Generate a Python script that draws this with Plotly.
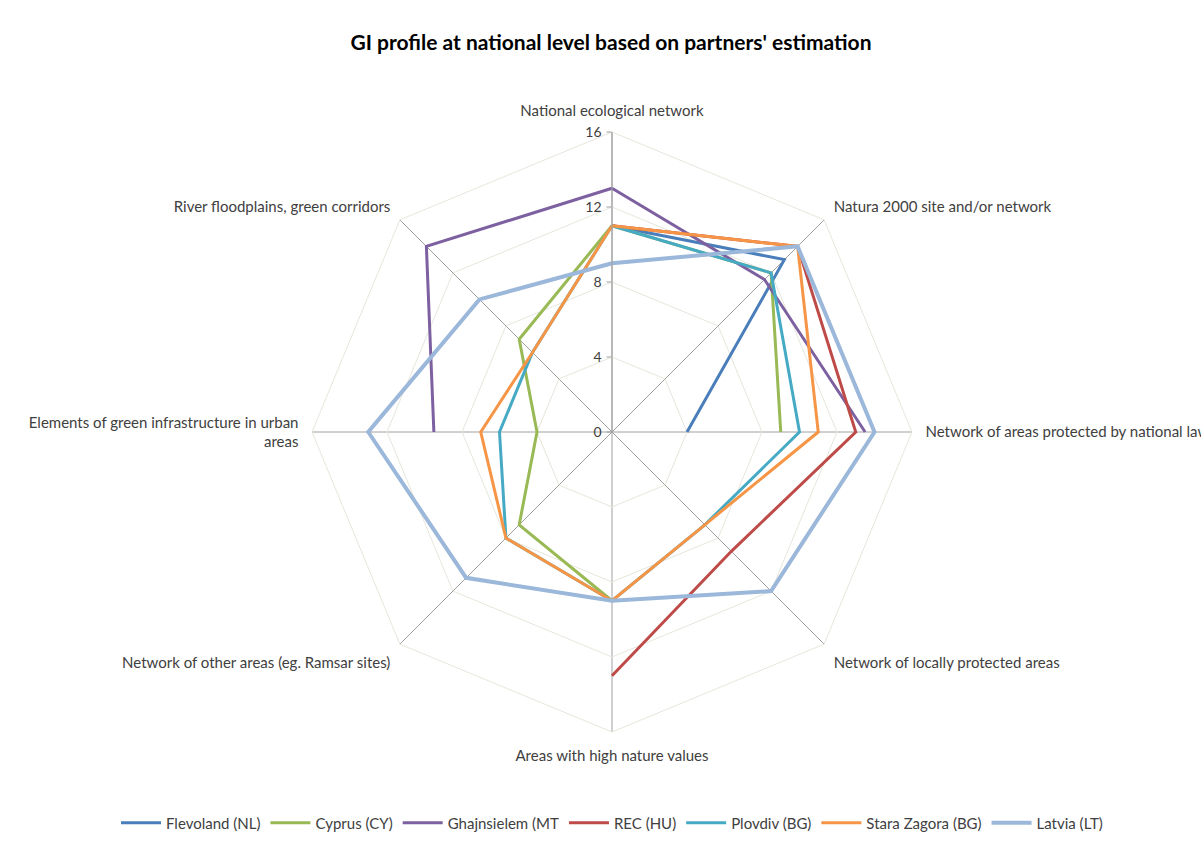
import plotly.graph_objects as go

categories = [
    "National ecological network",
    "Natura 2000 site and/or network",
    "Network of areas protected by national law",
    "Network of locally protected areas",
    "Areas with high nature values",
    "Network of other areas (eg. Ramsar sites)",
    "Elements of green infrastructure in urban areas",
    "River floodplains, green corridors",
]
category_labels = [
    "National ecological network",
    "Natura 2000 site and/or network",
    "Network of areas protected by national law",
    "Network of locally protected areas",
    "Areas with high nature values",
    "Network of other areas (eg. Ramsar sites)",
    "Elements of green infrastructure in urban<br>areas",
    "River floodplains, green corridors",
]

flevoland = [11, 13, 4, None, None, None, None, None]
cyprus = [11, 12, 9, None, 9, 7, 4, 7]
ghajnsielem = [13, 11.5, 13.5, None, None, None, 9.5, 14]
rec = [11, 14, 13, 9, 13, None, None, None]
plovdiv = [11, 12, 10, 7, 9, 8, 6, 6]
stara_zagora = [11, 14, 11, 7, 9, 8, 7, 6]
latvia = [9, 14, 14, 12, 9, 11, 13, 10]

series = [
    ("Flevoland (NL)", flevoland, "#4a7ebb", 3),
    ("Cyprus (CY)", cyprus, "#98b954", 3),
    ("Ghajnsielem (MT", ghajnsielem, "#7d60a0", 3),
    ("REC (HU)", rec, "#be4b48", 3),
    ("Plovdiv (BG)", plovdiv, "#46aac5", 3),
    ("Stara Zagora (BG)", stara_zagora, "#f69545", 3),
    ("Latvia (LT)", latvia, "#9bb7d9", 4),
]

radial_ticks = [0, 4, 8, 12, 16]

fig = go.Figure()
for name, values, color, width in series:
    fig.add_trace(go.Scatterpolar(
        r=values + values[:1],
        theta=categories + categories[:1],
        mode="lines",
        name=name,
        line=dict(color=color, width=width),
        connectgaps=False,
    ))

W, H = 1201, 843
cx, cy, R = 612, 432, 300

fig.update_layout(
    width=W, height=H,
    margin=dict(l=0, r=0, t=0, b=0),
    paper_bgcolor="white",
    plot_bgcolor="white",
    font=dict(family="Lato, 'Open Sans', sans-serif", size=14, color="#404040"),
    title=dict(
        text="<b>GI profile at national level based on partners' estimation</b>",
        x=611 / W, y=1 - 43 / H, xanchor="center", yanchor="middle",
        font=dict(size=21, color="#000000"),
    ),
    polar=dict(
        domain=dict(x=[(cx - R) / W, (cx + R) / W], y=[1 - (cy + R) / H, 1 - (cy - R) / H]),
        gridshape="linear",
        bgcolor="white",
        radialaxis=dict(
            range=[0, 16],
            tickmode="array",
            tickvals=radial_ticks,
            ticktext=[str(v) for v in radial_ticks],
            angle=90,
            side="counterclockwise",
            tickangle=90,
            ticks="outside",
            ticklen=5,
            tickcolor="#a0a0a0",
            showline=True,
            linecolor="#a0a0a0",
            linewidth=1,
            gridcolor="#e6e6dc",
            gridwidth=1,
            tickfont=dict(size=14, color="#404040"),
        ),
        angularaxis=dict(
            type="category",
            rotation=90,
            direction="clockwise",
            tickmode="array",
            tickvals=categories,
            ticktext=category_labels,
            showline=True,
            linecolor="#e6e6dc",
            linewidth=1,
            gridcolor="#a0a0a0",
            gridwidth=1,
            ticks="outside",
            ticklen=10,
            tickcolor="rgba(0,0,0,0)",
            tickfont=dict(size=15, color="#404040"),
        ),
    ),
    legend=dict(
        orientation="h",
        x=116 / W, xanchor="left",
        y=1 - 823 / H, yanchor="middle",
        font=dict(size=15, color="#404040"),
        itemwidth=40,
        bgcolor="rgba(0,0,0,0)",
    ),
    showlegend=True,
)

fig.write_html("out.html")
